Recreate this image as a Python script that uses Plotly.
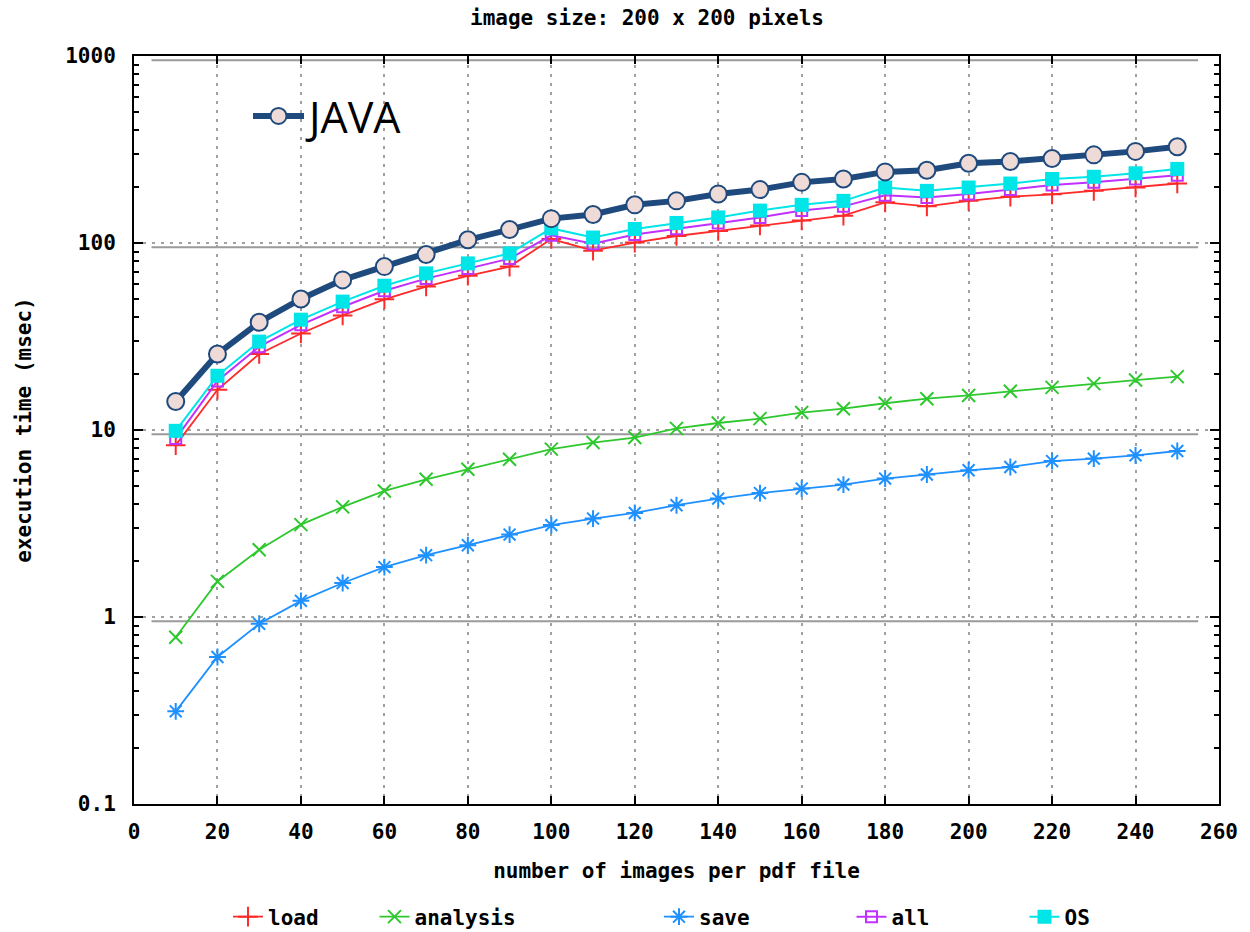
import plotly.graph_objects as go

# ---------------- data ----------------
n_images = [10, 20, 30, 40, 50, 60, 70, 80, 90, 100, 110, 120, 130,
            140, 150, 160, 170, 180, 190, 200, 210, 220, 230, 240, 250]

java = [14.2, 25.5, 37.7, 50.2, 63.5, 74.8, 86.8, 104, 118, 135, 142, 160, 168,
        183, 193, 211, 220, 240, 245, 267, 273, 283, 296, 309, 327]

load = [8.3, 16.4, 25.5, 32.8, 41.0, 50.0, 58.5, 66.8, 74.8, 105, 91, 100.5, 109,
        116, 124, 132, 140, 165, 157, 168, 177, 182, 190, 198, 208]

analysis = [0.78, 1.55, 2.29, 3.12, 3.88, 4.72, 5.45, 6.17, 6.97, 7.9, 8.57, 9.11, 10.2,
            10.9, 11.5, 12.4, 13.0, 13.9, 14.7, 15.3, 16.1, 16.9, 17.7, 18.5, 19.3]

save = [0.313, 0.611, 0.92, 1.22, 1.52, 1.85, 2.14, 2.42, 2.76, 3.10, 3.36, 3.60, 3.96,
        4.30, 4.60, 4.86, 5.11, 5.50, 5.78, 6.09, 6.34, 6.82, 7.03, 7.32, 7.72]

all_ = [9.0, 18.3, 27.9, 36.5, 45.6, 55.5, 64.5, 73, 82.5, 110, 99, 111, 119,
        128, 137, 149, 157, 180, 175, 183, 193, 204, 211, 220, 230]

os_ = [9.9, 19.5, 29.7, 38.9, 48.6, 59.1, 68.8, 77.8, 88, 119.7, 107, 118.8, 128,
       137, 149, 160, 168, 198, 190, 198, 208, 220, 226, 236, 249]

x_ticks = [0, 20, 40, 60, 80, 100, 120, 140, 160, 180, 200, 220, 240, 260]
y_ticks = [0.1, 1, 10, 100, 1000]
y_tick_text = ["0.1", "1", "10", "100", "1000"]
y_minor = [m * 10 ** e for e in (-1, 0, 1, 2) for m in range(2, 10)]
offset_lines = [950, 95, 9.5, 0.95]

MONO = "DejaVu Sans Mono"
FS = 21
fig = go.Figure()

series = [
    ("load", load, "#ff2a2a", dict(symbol="cross-thin", size=14, line=dict(width=2, color="#ff2a2a")), 1.8, "legend3"),
    ("analysis", analysis, "#2ec82e", dict(symbol="x-thin", size=13, line=dict(width=2, color="#2ec82e")), 1.8, "legend4"),
    ("save", save, "#1e90ff", dict(symbol="asterisk", size=14, line=dict(width=2, color="#1e90ff")), 1.8, "legend5"),
    ("all", all_, "#c030ff", dict(symbol="square-open", size=11, line=dict(width=2, color="#c030ff")), 2, "legend6"),
    ("OS", os_, "#00e5e8", dict(symbol="square", size=14, color="#00e5e8", line=dict(width=0)), 2, "legend7"),
]
for name, vals, col, mk, lw, lg in series:
    if "color" not in mk:
        mk["color"] = col
    fig.add_trace(go.Scatter(x=n_images, y=vals, name=name, mode="lines+markers",
                             line=dict(color=col, width=lw), marker=mk, legend=lg))

fig.add_trace(go.Scatter(x=n_images, y=java, name="JAVA", mode="lines+markers",
                         line=dict(color="#1f4a7e", width=6),
                         marker=dict(symbol="circle", size=17, color="#eedad6",
                                     line=dict(color="#1f4a7e", width=2)),
                         legend="legend2"))

for v in offset_lines:
    fig.add_shape(type="line", xref="x", yref="y", x0=4.2, x1=255, y0=v, y1=v,
                  line=dict(color="#9a9a9a", width=2), layer="below")

def leg(xc, yc, size, family, weight, anchor="center", iw=30):
    return dict(x=xc, y=yc, xanchor=anchor, yanchor="middle", bgcolor="rgba(0,0,0,0)",
                font=dict(family=family, size=size, color="black", weight=weight),
                itemwidth=iw)

W0, W1 = 134, 1219
H0, H1 = 56, 804
px = lambda p: (p - W0) / (W1 - W0)
py = lambda p: (H1 - p) / (H1 - H0)

fig.update_layout(
    width=1250, height=932, autosize=False,
    margin=dict(l=W0, r=1250 - W1, t=H0, b=932 - H1, autoexpand=False),
    paper_bgcolor="white", plot_bgcolor="white",
    title=dict(text="image size: 200 x 200 pixels", x=647 / 1250, xanchor="center",
               y=1 - 18 / 932, yanchor="middle", yref="container",
               font=dict(family=MONO, size=FS, color="black", weight="bold")),
    font=dict(family=MONO, size=FS, color="black"),
    legend2=leg(px(248), py(116), 43, "Open Sans", "normal", "left", 51),
    legend3=leg(px(276), py(917), FS, MONO, "bold"),
    legend4=leg(px(448), py(917), FS, MONO, "bold"),
    legend5=leg(px(707), py(917), FS, MONO, "bold"),
    legend6=leg(px(893), py(917), FS, MONO, "bold"),
    legend7=leg(px(1060), py(917), FS, MONO, "bold"),
    xaxis=dict(range=[0, 260], tickvals=x_ticks, ticks="inside", ticklen=8, tickwidth=1.5,
               tickcolor="black", showline=True, linewidth=2, linecolor="black",
               mirror="allticks", showgrid=True, gridcolor="#a0a0a0", griddash="3px,6px",
               gridwidth=1.5, zeroline=False, ticklabelstandoff=8,
               tickfont=dict(family=MONO, size=FS, weight="bold"),
               title=dict(text="number of images per pdf file", standoff=20,
                          font=dict(family=MONO, size=FS, weight="bold"))),
    yaxis=dict(type="log", range=[-1, 3], tickvals=y_ticks, ticktext=y_tick_text,
               ticks="inside", ticklen=9, tickwidth=2, tickcolor="black",
               showline=True, linewidth=2, linecolor="black", mirror="allticks",
               showgrid=True, gridcolor="#a0a0a0", griddash="3px,6px", gridwidth=1.5,
               zeroline=False, ticklabelstandoff=12,
               tickfont=dict(family=MONO, size=FS, weight="bold"),
               minor=dict(tickvals=y_minor, ticks="inside", ticklen=5, tickwidth=2,
                          tickcolor="black", showgrid=False),
               title=dict(text="execution time (msec)", standoff=28,
                          font=dict(family=MONO, size=FS, weight="bold"))),
)

fig.write_html("out.html")
